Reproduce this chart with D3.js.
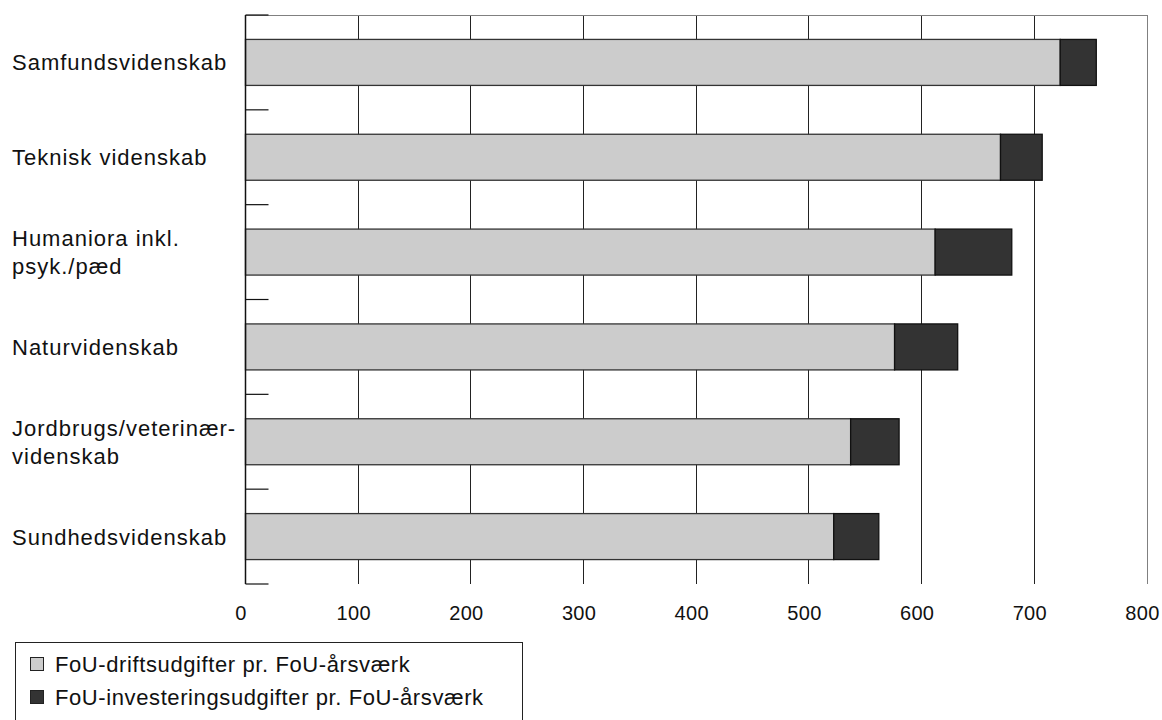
<!DOCTYPE html>
<html><head><meta charset="utf-8">
<script src="https://cdn.jsdelivr.net/npm/d3@7"></script>
<style>
body{margin:0;background:#fff;}
text{font-family:"Liberation Sans",Arial,sans-serif;fill:#111;}
</style></head><body>
<svg id="chart" width="1162" height="720"></svg>
<script>
const categories = [
  ["Samfundsvidenskab"],
  ["Teknisk videnskab"],
  ["Humaniora inkl.", "psyk./pæd"],
  ["Naturvidenskab"],
  ["Jordbrugs/veterinær-", "videnskab"],
  ["Sundhedsvidenskab"]
];
const drift = [723, 670, 612, 576, 537, 522];
const invest = [32, 37, 68, 56, 43, 40];
const xTicks = [0, 100, 200, 300, 400, 500, 600, 700, 800];
const seriesNames = ["FoU-driftsudgifter pr. FoU-årsværk", "FoU-investeringsudgifter pr. FoU-årsværk"];
const colors = ["#cccccc", "#333333"];

const svg = d3.select("#chart");
const x0 = 245.5, x1 = 1147, yTop = 15, yBot = 584;
const x = d3.scaleLinear().domain([0, 800]).range([x0, x1]);
const idx = d3.range(categories.length);
const y = d3.scaleBand().domain(idx).range([yTop, yBot]).padding(0);
const barH = y.bandwidth() * 0.485;

// gridlines
svg.append("g").selectAll("line").data(xTicks.filter(t => t > 0)).join("line")
  .attr("x1", d => x(d)).attr("x2", d => x(d))
  .attr("y1", yTop).attr("y2", yBot)
  .attr("stroke", d => d === 800 ? "#808080" : "#222").attr("stroke-width", 1)
  .attr("shape-rendering", "crispEdges");
// top border
svg.append("line").attr("x1", x0).attr("x2", x1).attr("y1", yTop).attr("y2", yTop)
  .attr("stroke", "#808080").attr("shape-rendering", "crispEdges");

// bars
const stack = idx.map(i => [[0, drift[i]], [drift[i], drift[i] + invest[i]]]);
idx.forEach(i => {
  stack[i].forEach((s, k) => {
    svg.append("rect")
      .attr("x", x(s[0])).attr("width", x(s[1]) - x(s[0]))
      .attr("y", y(i) + (y.bandwidth() - barH) / 2).attr("height", barH)
      .attr("fill", colors[k]).attr("stroke", k === 0 ? "#333" : "#111").attr("stroke-width", 1.3);
  });
});

// left axis line
svg.append("line").attr("x1", x0).attr("x2", x0).attr("y1", yTop).attr("y2", yBot)
  .attr("stroke", "#111").attr("stroke-width", 1.5);
// band boundary ticks
const bounds = d3.range(categories.length + 1).map(i => i < categories.length ? y(i) : yBot);
svg.append("g").selectAll("line").data(bounds).join("line")
  .attr("x1", x0).attr("x2", x0 + 23).attr("y1", d => d).attr("y2", d => d)
  .attr("stroke", "#111").attr("stroke-width", 1.2);

// x tick labels
svg.append("g").selectAll("text").data(xTicks).join("text")
  .attr("x", d => x(d) - 4.5).attr("y", 620).attr("text-anchor", "middle")
  .style("font-size", "20px").style("letter-spacing", "0.3px").text(d => d);

// category labels
idx.forEach(i => {
  const lines = categories[i];
  const cy = y(i) + y.bandwidth() / 2;
  const lh = 28;
  const t = svg.append("text").attr("x", 12).style("font-size", "22px").style("letter-spacing", "1px");
  lines.forEach((ln, j) => {
    t.append("tspan").attr("x", 12)
      .attr("y", cy + (j - (lines.length - 1) / 2) * lh + 8).text(ln);
  });
});

// legend
svg.append("rect").attr("x", 15.5).attr("y", 642.5).attr("width", 507).attr("height", 100)
  .attr("fill", "none").attr("stroke", "#222").attr("stroke-width", 1);
seriesNames.forEach((n, k) => {
  const cy = 664 + k * 33;
  svg.append("rect").attr("x", 30.5).attr("y", cy - 6.5).attr("width", 13).attr("height", 13)
    .attr("fill", colors[k]).attr("stroke", "#222").attr("stroke-width", 1);
  svg.append("text").attr("x", 55).attr("y", cy + 8).style("font-size", "22px").style("letter-spacing", "0.6px").text(n);
});
</script>
</body></html>
